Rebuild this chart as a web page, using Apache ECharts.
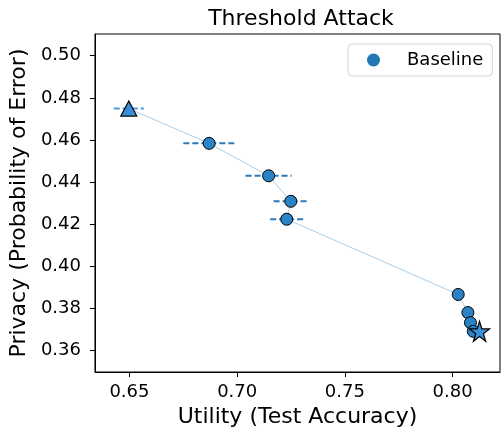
<!DOCTYPE html>
<html>
<head>
<meta charset="utf-8">
<script src="https://cdn.jsdelivr.net/npm/echarts@6/dist/echarts.min.js"></script>
<style>
  html, body { margin: 0; padding: 0; background: #fff; }
  #chart { width: 501px; height: 433px; }
</style>
</head>
<body>
<div id="chart"></div>
<script>
// 数据
const utility = [0.6497, 0.687, 0.7146, 0.7249, 0.7230, 0.8026, 0.8071, 0.8083, 0.8096, 0.8125];
const privacy = [0.4749, 0.4584, 0.4430, 0.4309, 0.4224, 0.3867, 0.3781, 0.3733, 0.3692, 0.3692];
const utilityErr = [0.007, 0.012, 0.0107, 0.008, 0.0077, 0, 0, 0, 0, 0];
const xTicks = [0.65, 0.70, 0.75, 0.80];
const yTicks = [0.36, 0.38, 0.40, 0.42, 0.44, 0.46, 0.48, 0.50];

const font = "DejaVu Sans";
const pts = utility.map((x, i) => [x, privacy[i]]);
const errData = utility.map((x, i) => [x, privacy[i], utilityErr[i]]);
const starPath = "path://M50,0 L61.2,34.5 L97.6,34.5 L68.2,55.9 L79.4,90.5 L50,69.1 L20.6,90.5 L31.8,55.9 L2.4,34.5 L38.8,34.5 Z";

const chart = echarts.init(document.getElementById("chart"));
chart.setOption({
  animation: false,
  title: {
    text: "Threshold Attack",
    left: 296,
    top: 3,
    textAlign: "center",
    textStyle: { fontFamily: font, fontSize: 22, fontWeight: "normal", color: "#000" },
  },
  legend: {
    data: [{ name: "Baseline", icon: "circle" }],
    left: 348,
    top: 44,
    padding: [7, 9, 7, 19],
    itemWidth: 13,
    itemHeight: 13,
    backgroundColor: "#fff",
    borderColor: "#d4d4d4",
    borderWidth: 1,
    borderRadius: 4,
    itemStyle: { color: "#1f77b4", borderWidth: 0, opacity: 1 },
    textStyle: { fontFamily: font, fontSize: 18, color: "#000", padding: [0, 0, 0, 22] },
  },
  grid: { left: 92, top: 34, right: 1, bottom: 61, show: true, borderColor: "#000", borderWidth: 1 },
  xAxis: {
    type: "value",
    min: 0.634,
    max: 0.822,
    name: "Utility (Test Accuracy)",
    nameLocation: "middle",
    nameGap: 33,
    nameTextStyle: { fontFamily: font, fontSize: 22, color: "#000" },
    axisLine: { show: true, onZero: false, lineStyle: { color: "#000" } },
    axisTick: { show: true, length: 5, customValues: xTicks, lineStyle: { color: "#000" } },
    axisLabel: {
      customValues: xTicks,
      margin: 11,
      fontFamily: font,
      fontSize: 18,
      color: "#000",
      formatter: (v) => v.toFixed(2),
    },
    splitLine: { show: false },
  },
  yAxis: {
    type: "value",
    min: 0.3499,
    max: 0.5103,
    name: "Privacy (Probability of Error)",
    nameLocation: "middle",
    nameGap: 63,
    nameTextStyle: { fontFamily: font, fontSize: 22, color: "#000" },
    axisLine: { show: true, onZero: false, lineStyle: { color: "#000" } },
    axisTick: { show: true, length: 5, customValues: yTicks, lineStyle: { color: "#000" } },
    axisLabel: {
      customValues: yTicks,
      margin: 14,
      fontFamily: font,
      fontSize: 18,
      color: "#000",
      formatter: (v) => v.toFixed(2),
    },
    splitLine: { show: false },
  },
  series: [
    {
      name: "path",
      type: "line",
      data: pts,
      symbol: "none",
      lineStyle: { color: "#a9cde9", width: 1 },
      z: 1,
      silent: true,
    },
    {
      name: "err",
      type: "custom",
      data: errData,
      z: 2,
      renderItem: (params, api) => {
        const x = api.value(0), y = api.value(1), e = api.value(2);
        if (!e) return null;
        const a = api.coord([x - e, y]);
        const b = api.coord([x + e, y]);
        return {
          type: "line",
          shape: { x1: a[0], y1: a[1], x2: b[0], y2: b[1] },
          style: { stroke: params.dataIndex === 0 ? "#4a9be0" : "#2a7bba", lineWidth: 2, lineDash: [6, 3] },
        };
      },
    },
    {
      name: "Baseline",
      type: "scatter",
      data: pts.slice(1, 9),
      symbol: "circle",
      symbolSize: 12,
      itemStyle: { color: "#2a83c5", borderColor: "#000", borderWidth: 1, opacity: 1 },
      z: 3,
    },
    {
      name: "start",
      type: "scatter",
      data: [pts[0]],
      symbol: "triangle",
      symbolSize: [16, 15],
      itemStyle: { color: "#3a90d8", borderColor: "#000", borderWidth: 1.2, opacity: 1 },
      z: 4,
    },
    {
      name: "end",
      type: "scatter",
      data: [pts[9]],
      symbol: starPath,
      symbolSize: 20,
      itemStyle: { color: "#3a90d8", borderColor: "#000", borderWidth: 1.2, opacity: 1 },
      z: 4,
    },
  ],
});
</script>
</body>
</html>
